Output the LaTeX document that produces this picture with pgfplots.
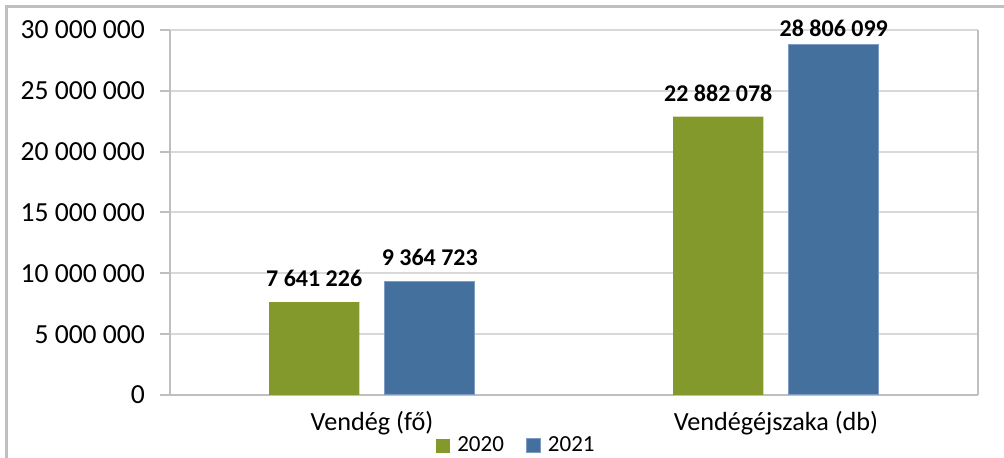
\documentclass[border=0pt]{standalone}
\usepackage{pgfplots}
\pgfplotsset{compat=1.18}
\usepackage{fontspec}
\setmainfont{Carlito}
\definecolor{cgreen}{RGB}{132,153,44}
\definecolor{cblue}{RGB}{67,112,156}
\definecolor{axgray}{RGB}{191,191,191}
\definecolor{grgray}{RGB}{217,217,217}
\begin{document}
\begin{tikzpicture}
\useasboundingbox (0pt,0pt) rectangle (502pt,229pt);
\clip (0pt,0pt) rectangle (502pt,229pt);
\draw[axgray,line width=1.5pt] (3.25pt,-10pt) rectangle (515pt,225.75pt);
\begin{axis}[
  at={(85pt,31.5pt)}, anchor=south west,
  scale only axis, width=404pt, height=182.5pt,
  xmin=-0.5, xmax=1.5, ymin=0, ymax=30000000,
  ybar, bar width=0.223, 
  axis line style={axgray, line width=1pt},
  axis x line*=bottom, axis y line*=left,
  xtick={0,1}, xticklabels={Vendég (fő),Vendégéjszaka (db)},
  x tick style={draw=none},
  extra x ticks={-0.5,0.5,1.5}, extra x tick labels={},
  extra x tick style={tick style={axgray,line width=1pt}, major tick length=4.5pt, tick align=outside},
  ytick={0,5000000,10000000,15000000,20000000,25000000,30000000},
  yticklabels={0,5 000 000,10 000 000,15 000 000,20 000 000,25 000 000,30 000 000},
  scaled y ticks=false,
  y tick style={axgray,line width=1pt}, major tick length=5pt, tick align=outside,
  ymajorgrids, grid style={grgray, line width=1pt},
  yticklabel style={font=\fontsize{13.8}{15}\selectfont, xshift=-4pt},
  xticklabel style={font=\fontsize{13.1}{15}\selectfont, yshift=0.5pt},
  enlarge x limits=false,
  clip=false,
  nodes near coords, point meta=explicit symbolic,
  visualization depends on=value \thisrow{dy} \as \dy,
  nodes near coords style={font=\bfseries\fontsize{12}{14}\selectfont, black, yshift=4pt, yshift=\dy pt},
  legend style={at={(0.43,-0.1397)}, anchor=center, draw=none, fill=none,
    legend columns=2, font=\fontsize{11.5}{13}\selectfont,
    /tikz/every odd column/.append style={column sep=1.5pt},
    /tikz/every even column/.append style={column sep=9pt}},
  legend image code/.code={\fill[#1] (0pt,-3.5pt) rectangle (7pt,3.5pt);},
]
\addplot[fill=cgreen, draw=none, bar shift=-0.143] table[col sep=comma, x=x, y=y, meta=lab] {
x,y,lab,dy
0,7641226,7 641 226,0
1,22882078,22 882 078,0
};
\addplot[fill=cblue, draw={rgb,255:red,125;green,155;blue,195}, line width=0.5pt, bar shift=0.143] table[col sep=comma, x=x, y=y, meta=lab] {
x,y,lab,dy
0,9364723,9 364 723,0
1,28806099,28 806 099,-3.5
};
\legend{2020,2021}
\draw[axgray, line width=1pt] (axis cs:1.5,0) -- (axis cs:1.5,30000000);
\end{axis}
\end{tikzpicture}
\end{document}
